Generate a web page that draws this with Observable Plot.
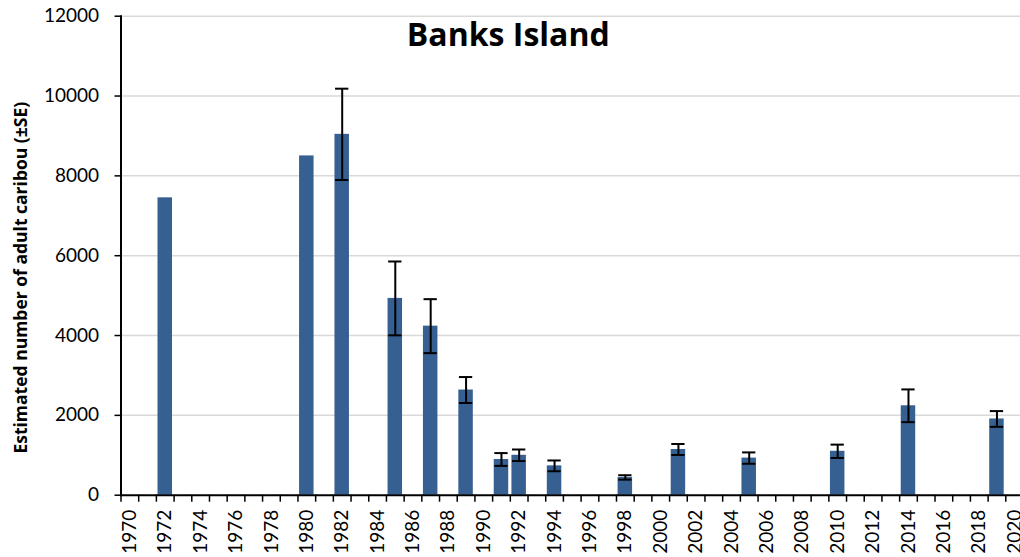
<!DOCTYPE html>
<html>
<head>
<meta charset="utf-8">
<script src="https://cdn.jsdelivr.net/npm/d3@7"></script>
<script src="https://cdn.jsdelivr.net/npm/@observablehq/plot@0.6"></script>
<style>
  html, body { margin: 0; padding: 0; background: #fff; overflow: hidden; }
  #chart svg { display: block; }
</style>
</head>
<body>
<div id="chart"></div>
<script>
// Banks Island caribou survey estimates (adults) with standard errors
const years = [1972, 1980, 1982, 1985, 1987, 1989, 1991, 1992, 1994, 1998, 2001, 2005, 2010, 2014, 2019];
const estimates = [7450, 8500, 9040, 4930, 4235, 2635, 895, 1000, 735, 445, 1145, 930, 1100, 2240, 1910];
const standardErrors = [null, null, 1144, 925, 676, 325, 160, 145, 135, 55, 138, 142, 167, 410, 197];

const yTicks = [0, 2000, 4000, 6000, 8000, 10000, 12000];
const axisYears = d3.range(1970, 2021);               // one category per year
const labelYears = axisYears.filter(y => y % 2 === 0); // labelled every second year

const title = "Banks Island";
const yLabel = "Estimated number of adult caribou (±SE)";

const surveys = years.map((year, i) => ({year, estimate: estimates[i], se: standardErrors[i]}));
const withSE = surveys.filter(d => d.se != null);
// tick marks sit on the boundaries between year categories
const boundaries = [...axisYears.map(y => y - 0.5), axisYears[axisYears.length - 1] + 0.5];
const capHalf = 0.376;

const chart = Plot.plot({
  width: 1020,
  height: 557,
  marginTop: 15.7,
  marginBottom: 62.3,
  marginLeft: 120.5,
  marginRight: -3,
  style: {fontFamily: "Lato, sans-serif", fontSize: "19px", color: "#000", background: "#fff"},
  x: {domain: [1969.5, 2020.5], axis: null},
  y: {domain: [0, 12000], axis: null},
  marks: [
    Plot.gridY(yTicks.filter(v => v > 0), {stroke: "#d9d9d9", strokeOpacity: 1, strokeWidth: 1.5}),
    Plot.rectY(surveys, {
      x1: d => d.year - 0.5,
      x2: d => d.year + 0.5,
      y: "estimate",
      fill: "#376092",
      insetLeft: 1.6,
      insetRight: 1.6
    }),
    Plot.ruleX(withSE, {x: "year", y1: d => d.estimate - d.se, y2: d => d.estimate + d.se, stroke: "#000", strokeWidth: 2}),
    Plot.ruleY(withSE, {y: d => d.estimate + d.se, x1: d => d.year - capHalf, x2: d => d.year + capHalf, stroke: "#000", strokeWidth: 2}),
    Plot.ruleY(withSE, {y: d => d.estimate - d.se, x1: d => d.year - capHalf, x2: d => d.year + capHalf, stroke: "#000", strokeWidth: 2}),
    Plot.axisY({ticks: yTicks, tickSize: 6, tickPadding: 16, tickFormat: d => String(d), label: null, stroke: "#000", strokeWidth: 1.5}),
    Plot.axisX({ticks: boundaries, tickSize: 7, tickFormat: () => "", label: null, stroke: "#000", strokeWidth: 1.5}),
    Plot.axisX({ticks: labelYears, tickSize: 0, tickRotate: -90, tickPadding: 14.5, tickFormat: d => String(d), label: null}),
    Plot.frame({anchor: "left", stroke: "#000", strokeWidth: 2}),
    Plot.frame({anchor: "bottom", stroke: "#000", strokeWidth: 2}),
    Plot.text([title], {
      text: d => d, frameAnchor: "top", textAnchor: "middle", lineAnchor: "top",
      dx: -64, dy: 7.2, fontFamily: "'Open Sans', sans-serif", fontSize: 32, fontWeight: "bold", fill: "#000"
    }),
    Plot.text([yLabel], {
      text: d => d, frameAnchor: "left", textAnchor: "middle", lineAnchor: "middle",
      dx: -100, dy: 22, rotate: -90, fontFamily: "'Open Sans', sans-serif", fontSize: 17.5, fontWeight: "bold", fill: "#000"
    })
  ]
});

document.getElementById("chart").appendChild(chart);
</script>
</body>
</html>
